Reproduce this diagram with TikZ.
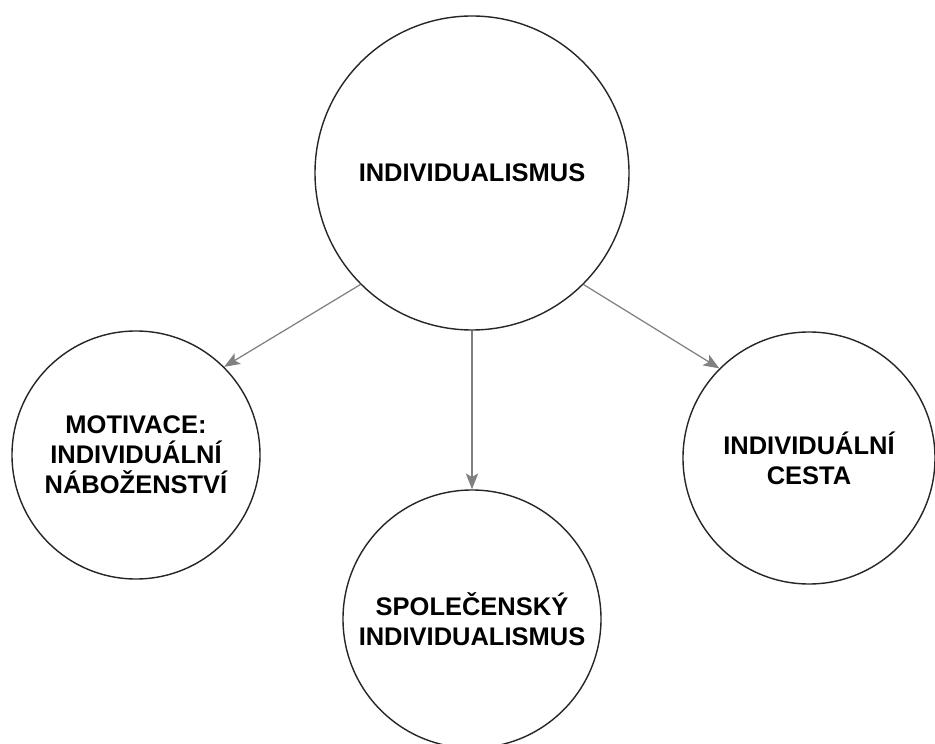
\documentclass[tikz,border=0pt]{standalone}
\usepackage{fontspec}
\setmainfont{Liberation Sans}
\usetikzlibrary{arrows.meta}

\begin{document}
\begin{tikzpicture}[
  bubble/.style={circle, draw=black!85, line width=0.8pt, inner sep=0pt, align=center,
    font=\fontsize{14.5}{17}\selectfont\bfseries},
  link/.style={->, draw=black!50, line width=0.7pt},
  >={Stealth[length=9pt, width=7pt, inset=2pt]}
]

\fill[white] (0,0) rectangle (18.7,14.86) ;
\useasboundingbox (0,0) rectangle (18.7,14.86) ;

\node[bubble, minimum size=6.28cm] (indiv) at (9.44,11.40) {INDIVIDUALISMUS} ;
\node[bubble, minimum size=4.96cm] (motiv) at (2.72,5.76) {MOTIVACE:\\INDIVIDUÁLNÍ\\NÁBOŽENSTVÍ} ;
\node[bubble, minimum size=5.16cm] (spol) at (9.44,2.48) {SPOLEČENSKÝ\\INDIVIDUALISMUS} ;
\node[bubble, minimum size=5.04cm] (cesta) at (16.18,5.70) {INDIVIDUÁLNÍ\\CESTA} ;

\draw[link] (indiv.south west) -- (motiv.north east) ;
\draw[link] (indiv.south) -- (spol.north) ;
\draw[link] (indiv.south east) -- (cesta.north west) ;
\end{tikzpicture}
\end{document}
